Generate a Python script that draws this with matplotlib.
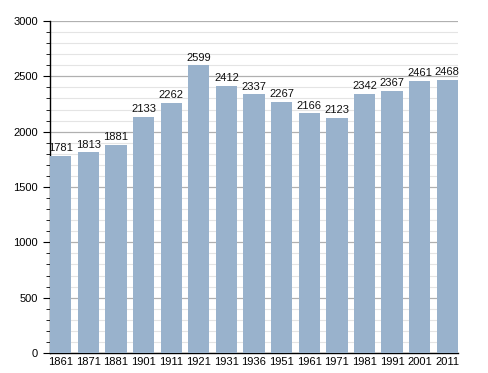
import matplotlib
matplotlib.use("Agg")
import matplotlib.pyplot as plt
from matplotlib.ticker import MultipleLocator

years = ["1861", "1871", "1881", "1901", "1911", "1921", "1931", "1936",
         "1951", "1961", "1971", "1981", "1991", "2001", "2011"]
population = [1781, 1813, 1881, 2133, 2262, 2599, 2412, 2337,
              2267, 2166, 2123, 2342, 2367, 2461, 2468]

plt.rcParams['font.family'] = ['Liberation Sans', 'DejaVu Sans']

fig = plt.figure(figsize=(4.88, 3.73), dpi=100)
ax = fig.add_axes([0.1025, 0.0536, 0.836, 0.89])

w = 0.77
x = list(range(len(years)))
ax.bar(x, population, width=w, color="#99b2cc", zorder=3)
for xi, v in zip(x, population):
    ax.text(xi, v + 25, str(v), ha="center", va="bottom", fontsize=8, color="#111111", zorder=4)

ax.set_xlim(-w / 2, len(years) - 1 + w / 2)
ax.set_ylim(0, 3000)
ax.set_xticks(x)
ax.set_xticklabels(years, fontsize=8)
ax.yaxis.set_major_locator(MultipleLocator(500))
ax.yaxis.set_minor_locator(MultipleLocator(100))
ax.tick_params(axis="y", which="major", labelsize=8, length=5, width=0.8, direction="out")
ax.tick_params(axis="y", which="minor", length=3, width=0.6, direction="out")
ax.tick_params(axis="x", length=0, pad=3)

ax.grid(axis="y", which="major", color="#b0b0b0", linewidth=0.9, zorder=0)
ax.grid(axis="y", which="minor", color="#e4e4e4", linewidth=0.8, zorder=0)

for s in ["top", "right"]:
    ax.spines[s].set_visible(False)
ax.spines["left"].set_linewidth(1.0)
ax.spines["bottom"].set_linewidth(1.0)

fig.savefig("out.png", dpi=100)
